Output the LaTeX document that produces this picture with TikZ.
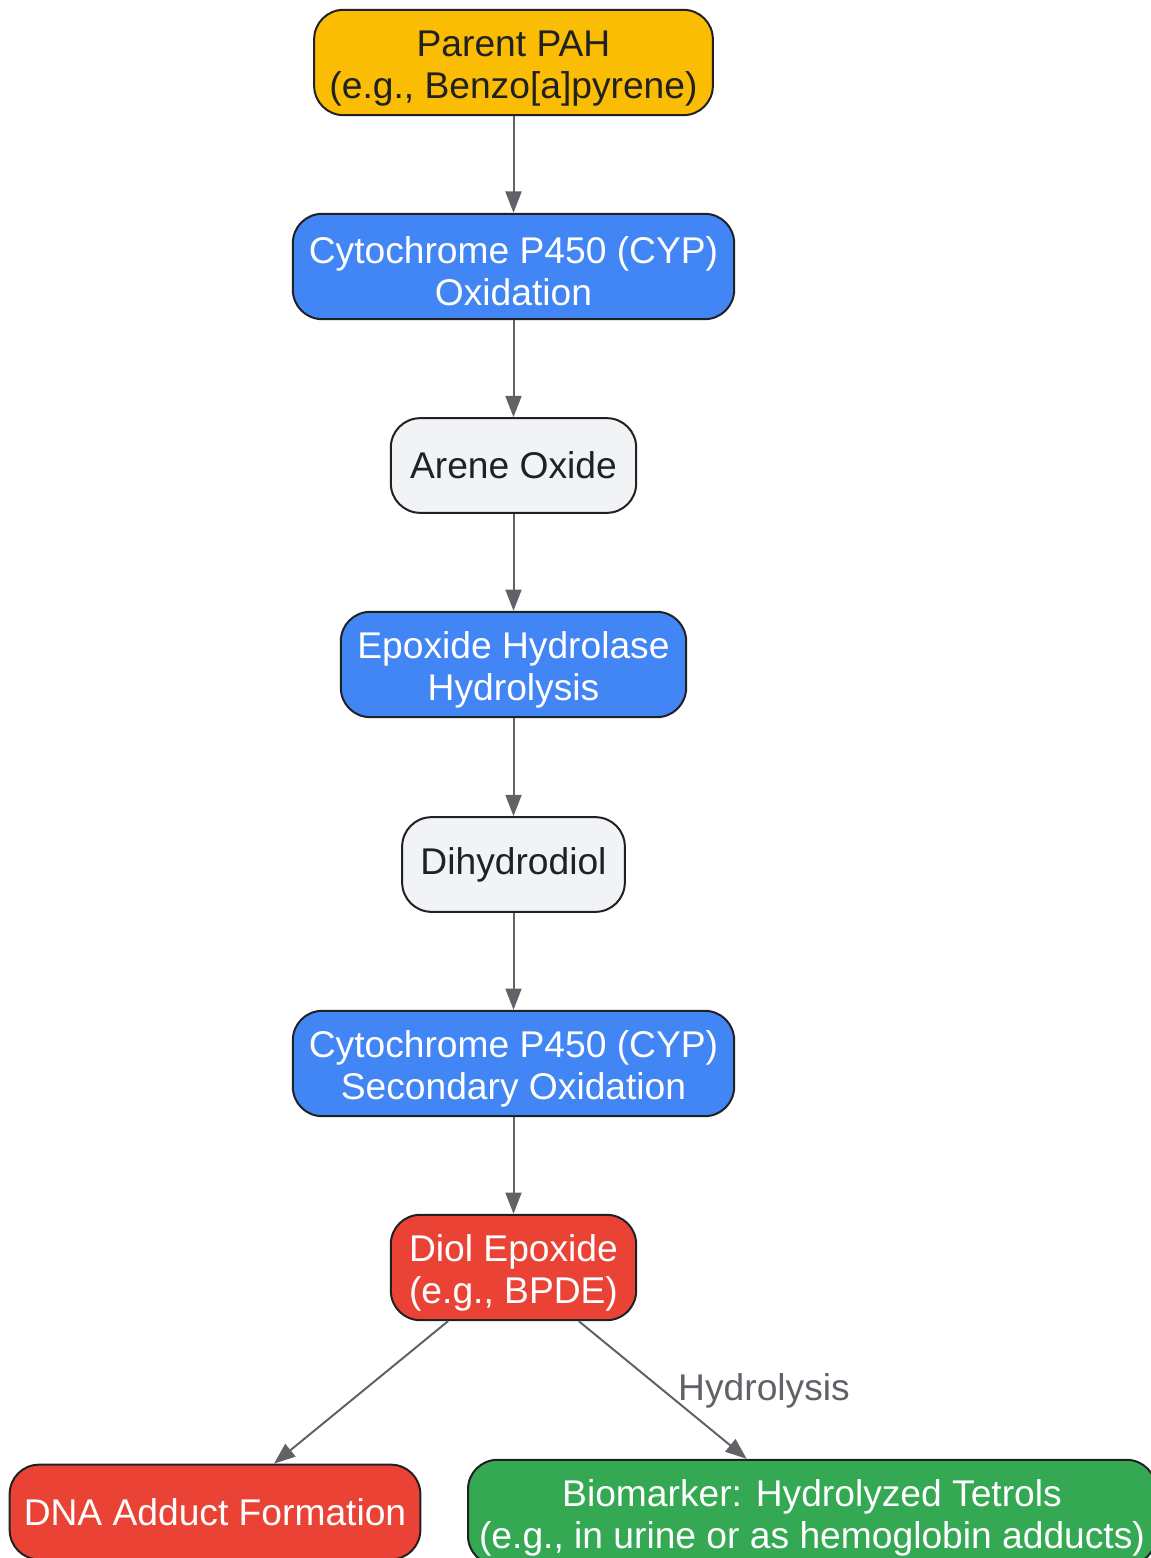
\documentclass[tikz,border=0pt]{standalone}
\usepackage{fontspec}
\setmainfont{Liberation Sans}
\usetikzlibrary{arrows.meta}
\definecolor{pahyellow}{HTML}{FBBC04}
\definecolor{enzblue}{HTML}{4285F4}
\definecolor{midgray}{HTML}{F1F3F4}
\definecolor{toxred}{HTML}{EA4335}
\definecolor{bioGreen}{HTML}{34A853}
\definecolor{inkdark}{HTML}{202124}
\definecolor{linegray}{HTML}{5F6368}
\newcommand{\topstrut}{\rule{0pt}{28pt}}
\begin{document}
\begin{tikzpicture}[>={Triangle[length=16pt,width=12pt]}, x=0.75pt, y=-0.75pt,
  box/.style={draw=inkdark, line width=1.5pt, rounded corners=22pt, align=center,
    font=\fontsize{27.9}{31.5}\selectfont, inner sep=0pt, minimum height=71pt},
  box2/.style={box, minimum height=79pt},
  flow/.style={->, draw=linegray, line width=1.5pt}]
 \useasboundingbox (0,0) rectangle (1151,1558);
 % main chain
 \node[box2, fill=pahyellow, text=inkdark, minimum width=299pt] (pah) at (513.5,62.5) {\topstrut Parent PAH\\(e.g., Benzo[a]pyrene)};
 \node[box2, fill=enzblue, text=white, minimum width=331pt] (cyp) at (513.5,266.5) {\topstrut Cytochrome P450 (CYP)\\Oxidation};
 \node[box, fill=midgray, text=inkdark, minimum width=184pt] (arene) at (513.5,465.5) {Arene Oxide};
 \node[box2, fill=enzblue, text=white, minimum width=259pt] (eh) at (513.5,664.5) {\topstrut Epoxide Hydrolase\\Hydrolysis};
 \node[box, fill=midgray, text=inkdark, minimum width=167pt] (diol) at (513.5,864.5) {Dihydrodiol};
 \node[box2, fill=enzblue, text=white, minimum width=331pt] (cyp2) at (513.5,1063.5) {\topstrut Cytochrome P450 (CYP)\\Secondary Oxidation};
 \node[box2, fill=toxred, text=white, minimum width=184pt] (bpde) at (513.5,1267.5) {\topstrut Diol Epoxide\\(e.g., BPDE)};
 % two outcomes
 \node[box, fill=toxred, text=white, minimum width=308pt] (dna) at (215,1512) {DNA Adduct Formation};
 \node[box2, fill=bioGreen, text=white, minimum width=516pt] (tetrol) at (812,1512.5) {\topstrut Biomarker: Hydrolyzed Tetrols\\(e.g., in urine or as hemoglobin adducts)};

 \draw[flow](pah)--(cyp);
 \draw[flow](cyp)--(arene);
 \draw[flow](arene)--(eh);
 \draw[flow](eh)--(diol);
 \draw[flow](diol)--(cyp2);
 \draw[flow](cyp2)--(bpde);
 \draw[flow](bpde)--(dna);
 \draw[flow](bpde)--(tetrol);
 \node[text=linegray, font=\fontsize{27.9}{31.5}\selectfont, inner sep=0pt] (hyd) at (764,1391) {Hydrolysis};
\end{tikzpicture}
\end{document}
